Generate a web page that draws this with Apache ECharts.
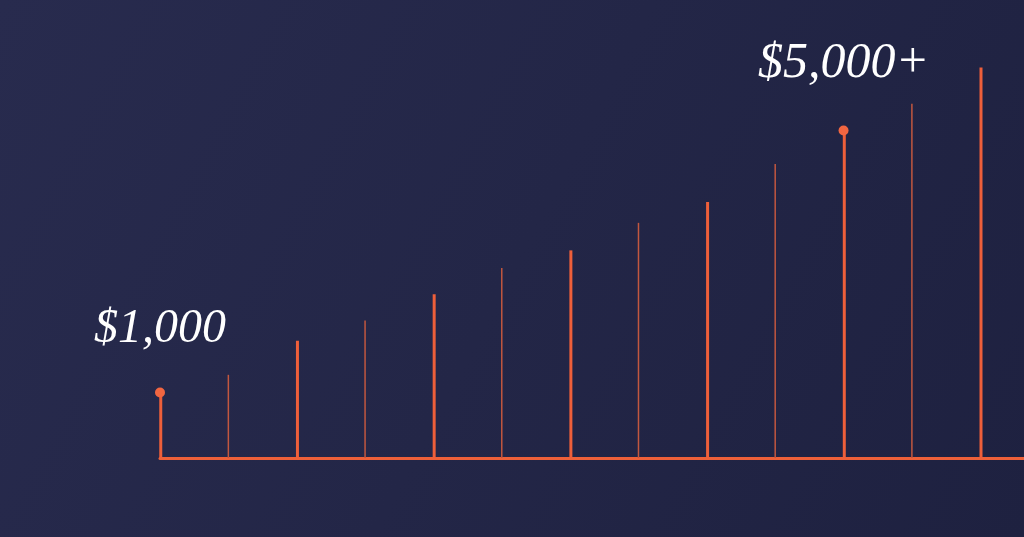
<!DOCTYPE html>
<html>
<head>
<meta charset="utf-8">
<script src="https://cdn.jsdelivr.net/npm/echarts@6/dist/echarts.min.js"></script>
<style>
html,body{margin:0;padding:0;width:1024px;height:537px;overflow:hidden;background:#24274a;}
#chart{width:1024px;height:537px;}
</style>
</head>
<body>
<div id="chart"></div>
<script>
// Step index along the baseline and the amount each step reaches (USD)
const steps = [0, 1, 2, 3, 4, 5, 6, 7, 8, 9, 10, 11, 12];
const amounts = [1000, 1270, 1790, 2100, 2500, 2900, 3170, 3590, 3910, 4490, 5000, 5410, 5960];
// Which steps are drawn as the strong (thick) stems
const strongSteps = [0, 2, 4, 6, 8, 10, 12];
// Highlighted milestones with their labels
const milestoneSteps = [0, 10];
const milestoneLabels = ['$1,000', '$5,000+'];

const strongData = [], lightData = [];
steps.forEach((s, i) => {
  if (strongSteps.includes(s)) strongData.push([s, amounts[i]]);
  else lightData.push([s, amounts[i]]);
});
const dotData = milestoneSteps.map((s, k) => ({
  value: [s, amounts[steps.indexOf(s)]],
  label: { formatter: milestoneLabels[k], distance: k === 0 ? 34 : 38, fontSize: k === 0 ? 48 : 50 }
}));

const chart = echarts.init(document.getElementById('chart'), null, { renderer: 'canvas' });
chart.setOption({
  animation: false,
  backgroundColor: {
    type: 'linear', x: 0, y: 0, x2: 1, y2: 1,
    colorStops: [{ offset: 0, color: '#282b4e' }, { offset: 1, color: '#1e2140' }]
  },
  grid: { left: 160, right: 0, top: 65, bottom: 79 },
  xAxis: {
    type: 'value', min: 0, max: 12.64,
    axisLine: { show: true, lineStyle: { color: '#ee6039', width: 3 } },
    axisTick: { show: false }, axisLabel: { show: false }, splitLine: { show: false }
  },
  yAxis: {
    type: 'value', min: 0, max: 6000, show: false, splitLine: { show: false }
  },
  series: [
    {
      type: 'bar', data: strongData, barWidth: 3, barGap: '-100%',
      itemStyle: { color: '#ee5f3a' }, z: 3
    },
    {
      type: 'bar', data: lightData, barWidth: 1.5, barGap: '-100%',
      itemStyle: { color: '#c2573f' }, z: 2
    },
    {
      type: 'scatter', data: dotData, symbolSize: 10,
      itemStyle: { color: '#f26641', opacity: 1 }, z: 5,
      label: {
        show: true, position: 'top', color: '#ffffff',
        fontFamily: '"Liberation Serif", serif', fontStyle: 'italic',
        fontSize: 48, lineHeight: 48
      }
    }
  ]
});
</script>
</body>
</html>
